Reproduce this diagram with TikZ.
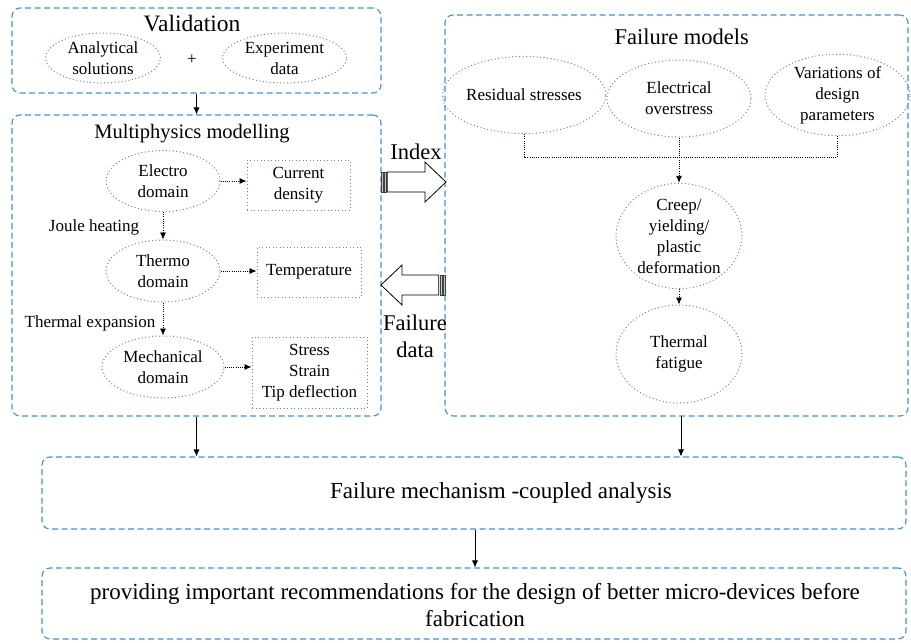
\documentclass[tikz,border=0pt]{standalone}
\usepackage{fontspec}
\setmainfont{Liberation Serif}
\usetikzlibrary{arrows.meta,shapes.geometric,calc}

\definecolor{frameblue}{RGB}{66,146,214}
\definecolor{dotblue}{RGB}{105,130,178}
\definecolor{stripegray}{RGB}{150,150,150}

\tikzset{
  groupbox/.style={draw=frameblue, line width=1.1pt, dash pattern=on 6pt off 3.5pt,
    rounded corners=8pt, minimum width=#1, inner sep=0pt},
  oval/.style={ellipse, draw=dotblue, line width=1pt, dash pattern=on 1pt off 2.5pt,
    inner sep=0pt, align=center, font=\fontsize{17}{21}\selectfont},
  dotbox/.style={rectangle, draw=dotblue, line width=1pt, dash pattern=on 1pt off 2.5pt,
    inner sep=0pt, align=center, font=\fontsize{17}{21}\selectfont},
  plain/.style={inner sep=0pt, align=center, font=\fontsize{17}{21}\selectfont},
  heading/.style={inner sep=0pt, align=center, font=\fontsize{22.5}{27}\selectfont},
  dotarrow/.style={draw=black, line width=0.8pt, dash pattern=on 1pt off 1.2pt,
    -{Latex[length=7pt,width=6pt]}},
  dotline/.style={draw=black, line width=0.8pt, dash pattern=on 1pt off 1.2pt},
  solidarrow/.style={draw=black, line width=0.8pt, -{Latex[length=7pt,width=6pt]}},
  blockarrow/.style={draw=black, line width=0.8pt, fill=white, line join=miter},
  stripe/.style={draw=black!75, line width=0.4pt, fill=stripegray!50},
}

\begin{document}
\begin{tikzpicture}[x=1pt, y=-1pt]
\useasboundingbox (0,0) rectangle (911,643);

% ---------- Validation ----------
\node[groupbox=369pt, minimum height=85pt] (val) at (196.5,50.5) {};
\node[heading, font=\fontsize{23.5}{28}\selectfont] (valt) at (192,24) {Validation};
\node[oval, minimum width=115pt, minimum height=50pt] (ana) at (103,58) {Analytical\\solutions};
\node[plain] (plus) at (192,60) {+};
\node[oval, minimum width=124pt, minimum height=50pt] (exp) at (284.5,58) {Experiment\\data};

% ---------- Multiphysics modelling ----------
\node[groupbox=369pt, minimum height=301pt] (multi) at (196.5,265.5) {};
\node[heading, font=\fontsize{20.5}{25}\selectfont] (multit) at (192,134) {Multiphysics modelling};

\node[oval, minimum width=114pt, minimum height=61pt] (electro) at (163,181) {Electro\\domain};
\node[dotbox, minimum width=103pt, minimum height=50pt] (cd) at (298.5,185) {Current\\density};
\node[oval, minimum width=114pt, minimum height=62pt] (thermo) at (163,271) {Thermo\\domain};
\node[dotbox, minimum width=104pt, minimum height=50pt] (temp) at (309,272) {Temperature};
\node[oval, minimum width=122pt, minimum height=62pt] (mech) at (163,367) {Mechanical\\domain};
\node[dotbox, minimum width=115pt, minimum height=71pt] (sst) at (309.5,372.5) {Stress\\Strain\\Tip deflection};

\node[plain] (joule) at (94,227) {Joule heating};
\node[plain] (texp) at (90,323) {Thermal expansion};

\draw[dotarrow] (electro.east) -- (electro.east -| cd.west);
\draw[dotarrow] (thermo.east) -- (thermo.east -| temp.west);
\draw[dotarrow] (mech.east) -- (mech.east -| sst.west);
\draw[dotarrow] (electro.south) -- (thermo.north);
\draw[dotarrow] (thermo.south) -- (mech.north);

% ---------- Failure models ----------
\node[groupbox=463pt, minimum height=401pt] (fmod) at (676.5,215.5) {};
\node[heading] (fmodt) at (681.7,37) {Failure models};

\node[oval, minimum width=143pt, minimum height=77pt] (res) at (524,95) {Residual stresses};
\node[oval, minimum width=144pt, minimum height=77pt] (elec) at (679,98.5) {Electrical\\overstress};
\node[oval, minimum width=145pt, minimum height=77pt] (var) at (837.5,95) {Variations of\\design\\parameters};
\node[oval, minimum width=126pt, minimum height=98pt] (creep) at (679,236) {Creep/\\yielding/\\plastic\\deformation};
\node[oval, minimum width=126pt, minimum height=98pt] (fat) at (679,354) {Thermal\\fatigue};

\coordinate (join) at (679,157);
\draw[dotline] (res.south) |- (join) -| (var.south);
\draw[dotarrow] (elec.south) -- (creep.north);
\draw[dotarrow] (creep.south) -- (fat.north);

% ---------- Exchange arrows ----------
\node[heading] (idx) at (416,152) {Index};
\node[heading] (fdata) at (415,336.5) {Failure\\data};

% Index arrow (pointing right)
\draw[stripe] (381,172) rectangle (383.3,192);
\draw[stripe] (384.3,172) rectangle (386.3,192);
\draw[blockarrow] (387.3,172) -- (425,172) -- (425,162) -- (446,182) -- (425,202) -- (425,192) -- (387.3,192) -- cycle;

% Failure data arrow (pointing left)
\draw[stripe] (443,275) rectangle (445,295);
\draw[stripe] (439.7,275) rectangle (442,295);
\draw[blockarrow] (438.7,275) -- (402,275) -- (402,265) -- (381,285) -- (402,305) -- (402,295) -- (438.7,295) -- cycle;

% ---------- Analysis and outcome ----------
\node[groupbox=864pt, minimum height=72pt] (fma) at (474,493) {};
\node[plain, font=\fontsize{23}{27}\selectfont] (fmat) at (501,493) {Failure mechanism -coupled analysis};
\node[groupbox=864pt, minimum height=71pt] (rec) at (474,603.5) {};
\node[plain, font=\fontsize{23}{26.5}\selectfont] (rect) at (475,605)
  {providing important recommendations for the design of better micro-devices before\\fabrication};

\draw[solidarrow] (val.south) -- (multi.north);
\draw[solidarrow] (multi.south) -- (multi.south |- fma.north);
\coordinate (fmbase) at (681,416);
\draw[solidarrow] (fmbase) -- (fmbase |- fma.north);
\draw[solidarrow] (fma.south -| rect) -- (rec.north -| rect);

\end{tikzpicture}
\end{document}
